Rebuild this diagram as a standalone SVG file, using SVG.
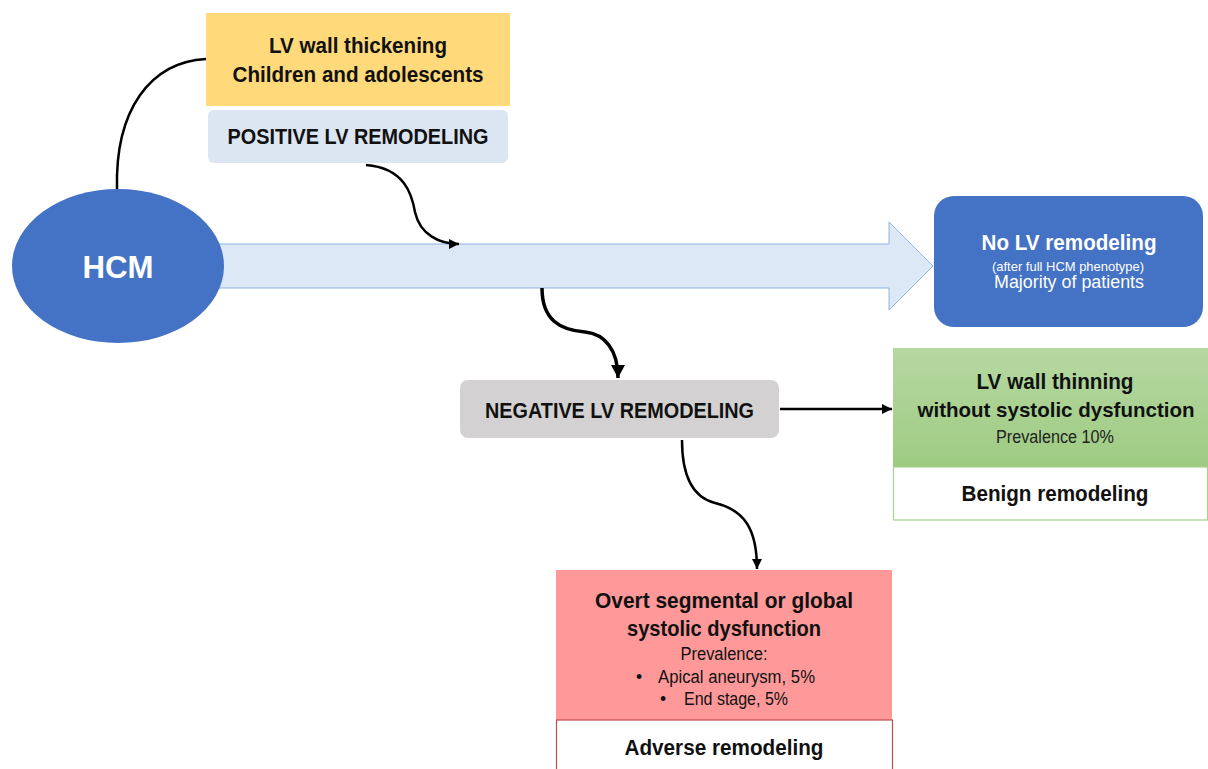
<svg xmlns="http://www.w3.org/2000/svg" width="1208" height="769" viewBox="0 0 1208 769">
<style>
text{font-family:"Liberation Sans",Arial,sans-serif;text-anchor:middle;fill:#111}
.h{font-weight:bold;font-size:22px}
.r{font-size:17.5px}
.w{fill:#fff}
.c{fill:none;stroke:#000;stroke-width:2.5}
</style>
<defs>
<marker id="ah" markerUnits="userSpaceOnUse" markerWidth="11" markerHeight="10" refX="10" refY="5" orient="auto">
<path d="M0,0 L10,5 L0,10 z" fill="#000"/>
</marker>
<marker id="ahb" markerUnits="userSpaceOnUse" markerWidth="14" markerHeight="14" refX="13" refY="7" orient="auto">
<path d="M0,0 L13,7 L0,14 z" fill="#000"/>
</marker>
<linearGradient id="gg" x1="0" y1="0" x2="0" y2="1">
<stop offset="0" stop-color="#B6D8A2"/>
<stop offset="1" stop-color="#9ECB82"/>
</linearGradient>
</defs>
<rect width="1208" height="769" fill="#fff"/>

<g id="main-arrow">
<path d="M200,244 L889,244 L889,222 L933,266 L889,310 L889,288 L200,288 Z" fill="#DCE8F5" stroke="#8EB4E3" stroke-width="1"/>
</g>

<g id="hcm">
<ellipse cx="118" cy="266" rx="106" ry="77" fill="#4472C4"/>
<text x="118" y="278" class="w" style="font-weight:bold;font-size:31px" textLength="71" lengthAdjust="spacingAndGlyphs">HCM</text>
</g>

<g id="thickening">
<rect x="206" y="13" width="304" height="93" fill="#FFD97A"/>
<text x="358" y="53" class="h" textLength="178" lengthAdjust="spacingAndGlyphs">LV wall thickening</text>
<text x="358" y="82" class="h" textLength="251" lengthAdjust="spacingAndGlyphs">Children and adolescents</text>
</g>

<g id="positive">
<rect x="208" y="110" width="300" height="53" rx="6" fill="#DCE6F3"/>
<text x="358" y="144" class="h" textLength="261" lengthAdjust="spacingAndGlyphs">POSITIVE LV REMODELING</text>
</g>

<g id="no-remodeling">
<rect x="934" y="196" width="269" height="131" rx="20" fill="#4472C4"/>
<text x="1069" y="250" class="h w" textLength="175" lengthAdjust="spacingAndGlyphs">No LV remodeling</text>
<text x="1068" y="271" class="w" style="font-size:13.5px" textLength="152" lengthAdjust="spacingAndGlyphs">(after full HCM phenotype)</text>
<text x="1069" y="288" class="w" style="font-size:18px" textLength="150" lengthAdjust="spacingAndGlyphs">Majority of patients</text>
</g>

<g id="negative">
<rect x="460" y="380" width="319" height="58" rx="8" fill="#D3D1D1"/>
<text x="619.5" y="418" class="h" textLength="269" lengthAdjust="spacingAndGlyphs">NEGATIVE LV REMODELING</text>
</g>

<g id="thinning">
<rect x="893" y="348" width="315" height="119" fill="url(#gg)"/>
<text x="1055" y="389" class="h" textLength="157" lengthAdjust="spacingAndGlyphs">LV wall thinning</text>
<text x="1056" y="417" class="h" style="font-size:21px" textLength="277" lengthAdjust="spacingAndGlyphs">without systolic dysfunction</text>
<text x="1055" y="443" class="r" style="fill:#222" textLength="118" lengthAdjust="spacingAndGlyphs">Prevalence 10%</text>
</g>

<g id="benign">
<rect x="893.5" y="467" width="314" height="53" fill="#fff" stroke="#A9D18E" stroke-width="1.2"/>
<text x="1055" y="501" class="h" textLength="187" lengthAdjust="spacingAndGlyphs">Benign remodeling</text>
</g>

<g id="systolic">
<rect x="556" y="570" width="336" height="150" fill="#FF9999"/>
<text x="724" y="608" class="h" textLength="258" lengthAdjust="spacingAndGlyphs">Overt segmental or global</text>
<text x="724" y="636" class="h" textLength="194" lengthAdjust="spacingAndGlyphs">systolic dysfunction</text>
<text x="724" y="660" class="r" textLength="87" lengthAdjust="spacingAndGlyphs">Prevalence:</text>
<text x="639" y="683" class="r">•</text>
<text x="658" y="683" class="r" style="text-anchor:start" textLength="157" lengthAdjust="spacingAndGlyphs">Apical aneurysm, 5%</text>
<text x="663" y="705" class="r">•</text>
<text x="684" y="705" class="r" style="text-anchor:start" textLength="104" lengthAdjust="spacingAndGlyphs">End stage, 5%</text>
</g>

<g id="adverse">
<rect x="556.5" y="720" width="336" height="60" fill="#fff" stroke="#C0504D" stroke-width="1.2"/>
<text x="724" y="755" class="h" textLength="199" lengthAdjust="spacingAndGlyphs">Adverse remodeling</text>
</g>

<g id="connectors">
<path class="c" d="M117,189 C115,110 150,62 206,59"/>
<path class="c" d="M366,165 C405,168 412,195 415,212 C420,235 440,244 459,244" marker-end="url(#ah)"/>
<path class="c" style="stroke-width:3.5" d="M542,288 C542,320 560,330 585,332 C605,334 618,350 618,378" marker-end="url(#ahb)"/>
<path class="c" d="M780,409 L892,409" marker-end="url(#ah)"/>
<path class="c" d="M682,440 C682,480 695,498 715,503 C745,510 757,530 757,569" marker-end="url(#ah)"/>
</g>
</svg>
